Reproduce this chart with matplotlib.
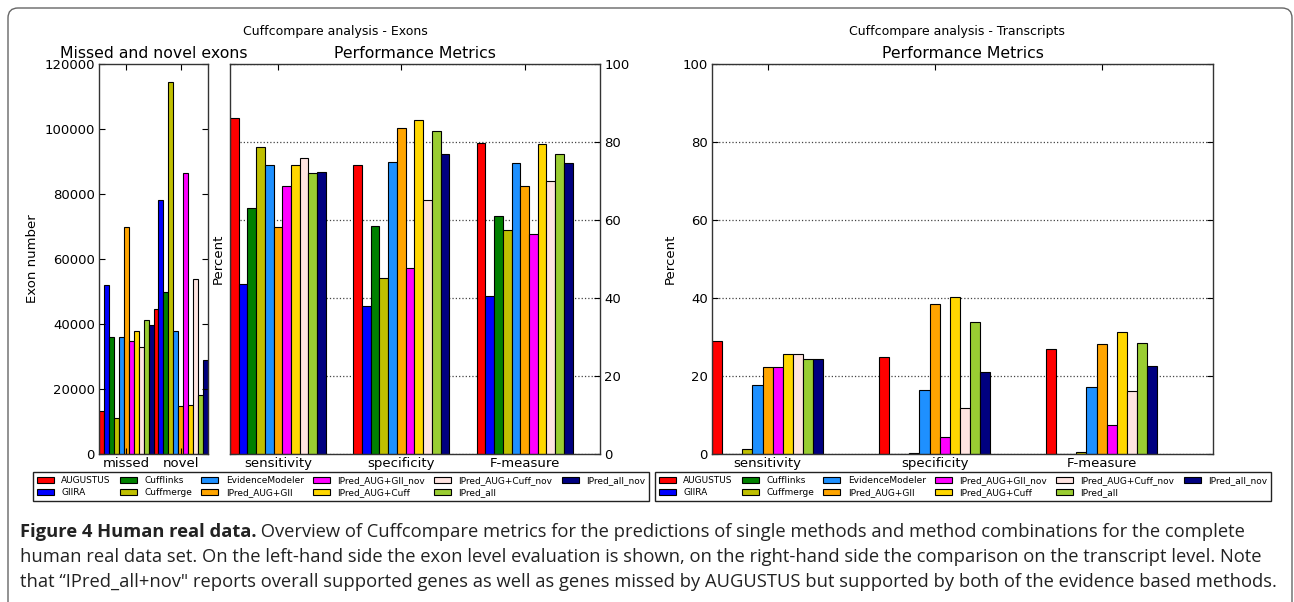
import matplotlib
matplotlib.use("Agg")
import matplotlib.pyplot as plt
import numpy as np
from matplotlib.patches import FancyBboxPatch, Patch
from matplotlib import font_manager

methods = ["AUGUSTUS", "GIIRA", "Cufflinks", "Cuffmerge", "EvidenceModeler",
           "IPred_AUG+GII", "IPred_AUG+GII_nov", "IPred_AUG+Cuff",
           "IPred_AUG+Cuff_nov", "IPred_all", "IPred_all_nov"]
colors = ["red", "blue", "green", "#bfbf00", "dodgerblue", "orange",
          "magenta", "gold", "mistyrose", "yellowgreen", "navy"]

# exon level: missed / novel exon counts
exon_groups = ["missed", "novel"]
exon_missed = [13200, 52000, 36000, 11000, 36100, 69700, 34900, 38000, 33000, 41300, 39700]
exon_novel = [44700, 78100, 49700, 114500, 37700, 14800, 86600, 15200, 53800, 18300, 29000]

# exon level performance (%)
metrics = ["sensitivity", "specificity", "F-measure"]
exon_sens = [86.2, 43.5, 63.2, 78.7, 74.0, 58.3, 68.6, 74.2, 75.8, 72.0, 72.3]
exon_spec = [74.1, 38.0, 58.5, 45.1, 74.9, 83.6, 47.6, 85.6, 65.1, 82.8, 76.9]
exon_fmeas = [79.7, 40.5, 60.9, 57.4, 74.5, 68.7, 56.3, 79.4, 70.1, 77.0, 74.6]

# transcript level performance (%)
tr_sens = [29.0, 0.0, 0.0, 1.2, 17.7, 22.2, 22.2, 25.6, 25.6, 24.4, 24.4]
tr_spec = [25.0, 0.0, 0.0, 0.3, 16.4, 38.4, 4.4, 40.2, 11.9, 33.8, 21.1]
tr_fmeas = [26.8, 0.0, 0.0, 0.5, 17.1, 28.2, 7.4, 31.2, 16.2, 28.4, 22.6]

caption_bold = "Figure 4 Human real data."
caption_lines = [
    " Overview of Cuffcompare metrics for the predictions of single methods and method combinations for the complete",
    "human real data set. On the left-hand side the exon level evaluation is shown, on the right-hand side the comparison on the transcript level. Note",
    "that \u201cIPred_all+nov\" reports overall supported genes as well as genes missed by AUGUSTUS but supported by both of the evidence based methods.",
]

W, H = 1294, 602
TICK_FS = 9.5
TITLE_FS = 11.3


def fig_rect(x0, y0, x1, y1):
    return [x0 / W, 1 - y1 / H, (x1 - x0) / W, (y1 - y0) / H]


def grouped_bars(ax, series, width):
    ngroups = len(series)
    for j in range(len(methods)):
        x = np.arange(ngroups) + j * width
        vals = [s[j] for s in series]
        ax.bar(x, vals, width, align="edge", color=colors[j],
               edgecolor="black", linewidth=0.8)
    ax.set_xlim(0, ngroups)
    ax.set_xticks(np.arange(ngroups) + width * len(methods) / 2)


def style_axes(ax):
    ax.tick_params(direction="in", length=4, width=0.8, labelsize=TICK_FS,
                   top=True, bottom=True, left=True, right=True)
    ax.tick_params(axis="x", pad=2)
    ax.tick_params(axis="y", pad=3)
    for sp in ax.spines.values():
        sp.set_linewidth(1.0)
        sp.set_color("#333333")


fig = plt.figure(figsize=(W / 100, H / 100), dpi=100)

# outer rounded frame
frame = FancyBboxPatch((0.08, -0.5), 12.84, 6.02 - 0.08 + 0.5,
                       boxstyle="round,pad=0,rounding_size=0.1",
                       transform=fig.dpi_scale_trans, facecolor="none",
                       edgecolor="#666666", linewidth=1.0)
fig.patches.append(frame)

# left: missed and novel exons
ax1 = fig.add_axes(fig_rect(99, 64, 208, 454))
grouped_bars(ax1, [exon_missed, exon_novel], 1.0 / len(methods))
ax1.set_xticklabels(exon_groups)
ax1.set_ylim(0, 120000)
ax1.set_yticks(range(0, 120001, 20000))
ax1.set_ylabel("Exon number", fontsize=TICK_FS)
ax1.set_title("Missed and novel exons", fontsize=TITLE_FS, pad=4.5)
style_axes(ax1)

# middle: exon performance metrics
ax2 = fig.add_axes(fig_rect(230, 64, 600, 454))
grouped_bars(ax2, [exon_sens, exon_spec, exon_fmeas], 0.0707)
ax2.set_xticklabels(metrics)
ax2.set_ylim(0, 100)
ax2.set_yticks(range(0, 101, 20))
ax2.yaxis.grid(True, linestyle=":", color="#444444", linewidth=0.9)
ax2.set_axisbelow(True)
style_axes(ax2)
ax2.tick_params(axis="y", labelleft=False, labelright=True)
ax2.yaxis.set_label_position("left")
ax2.set_ylabel("Percent", fontsize=TICK_FS, labelpad=4)
ax2.set_title("Performance Metrics", fontsize=TITLE_FS, pad=4.5)

# right: transcript performance metrics
ax3 = fig.add_axes(fig_rect(712, 64, 1213, 454))
grouped_bars(ax3, [tr_sens, tr_spec, tr_fmeas], 0.0606)
ax3.set_xticklabels(metrics)
ax3.set_ylim(0, 100)
ax3.set_yticks(range(0, 101, 20))
ax3.yaxis.grid(True, linestyle=":", color="#444444", linewidth=0.9)
ax3.set_axisbelow(True)
style_axes(ax3)
ax3.set_ylabel("Percent", fontsize=TICK_FS)
ax3.set_title("Performance Metrics", fontsize=TITLE_FS, pad=4.5)

fig.text(335 / W, 1 - 31 / H, "Cuffcompare analysis - Exons", fontsize=9,
         ha="center", va="center")
fig.text(957 / W, 1 - 31 / H, "Cuffcompare analysis - Transcripts", fontsize=9,
         ha="center", va="center")

# legends
handles = [Patch(facecolor=c, edgecolor="black", linewidth=0.8) for c in colors]
for cx in (341, 963):
    leg = fig.legend(handles, methods, loc="center",
                     bbox_to_anchor=(cx / W, 1 - 486.5 / H), ncol=6,
                     fontsize=6.5, handlelength=1.9, handleheight=0.7,
                     handletextpad=0.8, columnspacing=1.02, labelspacing=0.35,
                     borderpad=0.4, fancybox=False, framealpha=1)
    leg.get_frame().set_edgecolor("#222222")
    leg.get_frame().set_linewidth(1.0)

# caption
names = {f.name for f in font_manager.fontManager.ttflist}
cap_font = "Liberation Sans Narrow" if "Liberation Sans Narrow" in names else "Open Sans"
cap_fs = 14.4 if cap_font == "Liberation Sans Narrow" else 13.2

bold = fig.text(20 / W, 1 - 537 / H, caption_bold, fontsize=cap_fs,
                fontweight="bold", family=cap_font, color="#222222", va="baseline")
plt.annotate(caption_lines[0], xy=(1, 0), xycoords=bold, va="bottom", ha="left",
             fontsize=cap_fs, family=cap_font, color="#222222",
             annotation_clip=False)
for k, line in enumerate(caption_lines[1:]):
    fig.text(20 / W, 1 - (562 + 25 * k) / H, line, fontsize=cap_fs,
             family=cap_font, color="#222222", va="baseline")

fig.savefig("out.png", dpi=100)
